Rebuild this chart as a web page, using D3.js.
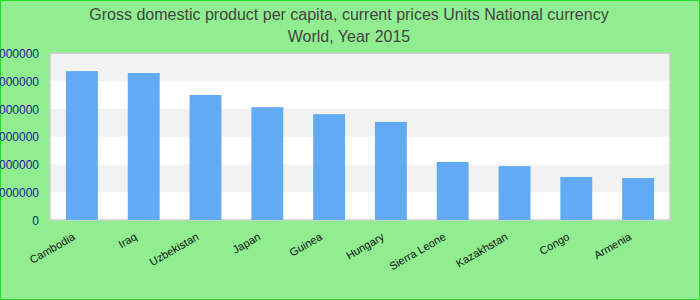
<!DOCTYPE html>
<html><head><meta charset="utf-8">
<script src="https://cdn.jsdelivr.net/npm/d3@7"></script>
<style>body{margin:0;padding:0;overflow:hidden}svg{display:block}</style>
</head><body>
<svg id="c" width="700" height="300"></svg>
<script>
const categories = ["Cambodia","Iraq","Uzbekistan","Japan","Guinea","Hungary","Sierra Leone","Kazakhstan","Congo","Armenia"];
const values = [5360000,5290000,4500000,4060000,3810000,3530000,2090000,1940000,1550000,1510000];
const yTicks = [0,1000000,2000000,3000000,4000000,5000000,6000000];
const titleLines = ["Gross domestic product per capita, current prices Units National currency","World, Year 2015"];

const svg = d3.select("#c");
const W = 700, H = 300;
const m = {l:50, r:30, t:53.3, b:80};
svg.append("rect").attr("x",0.5).attr("y",0.5).attr("width",W-1).attr("height",H-1)
  .attr("fill","#90ee90").attr("stroke","#22e022").attr("stroke-width",1);

const x = d3.scaleBand().domain(categories).range([m.l, W-m.r]).paddingInner(0.484).paddingOuter(0.258);
const y = d3.scaleLinear().domain([0,6000000]).range([220, m.t]);

svg.append("rect").attr("x",m.l).attr("y",m.t).attr("width",W-m.r-m.l).attr("height",220-m.t).attr("fill","#fff");
for (let i=0;i<yTicks.length-1;i++){
  if ((yTicks.length-2-i)%2===0){
    svg.append("rect").attr("x",m.l).attr("y",y(yTicks[i+1])).attr("width",W-m.r-m.l)
      .attr("height",y(yTicks[i])-y(yTicks[i+1])).attr("fill","#f2f2f2");
  }
}
svg.append("rect").attr("x",m.l).attr("y",m.t).attr("width",W-m.r-m.l).attr("height",220-m.t)
  .attr("fill","none").attr("stroke","#cfcfcf").attr("stroke-width",1.5);

svg.selectAll(".bar").data(categories).enter().append("rect")
  .attr("x",d=>x(d)).attr("width",x.bandwidth())
  .attr("y",(d,i)=>y(values[i])).attr("height",(d,i)=>220-y(values[i]))
  .attr("fill","#62aaf4");

const yAxis = d3.axisLeft(y).tickValues(yTicks).tickFormat(d=>String(d)).tickSize(0).tickPadding(0);
const ga = svg.append("g").attr("transform","translate(39,0)").call(yAxis);
ga.select(".domain").remove();
ga.selectAll("text").attr("fill","#1a1a9a").style("font-family","Liberation Sans, Arial, sans-serif").style("font-size","12px").attr("dy","0.35em");

const xAxis = d3.axisBottom(x).tickSize(0).tickPadding(0);
const gx = svg.append("g").call(xAxis);
gx.select(".domain").remove();
gx.selectAll(".tick").attr("transform",d=>`translate(${x(d)+x.bandwidth()/2-6},239)`);
gx.selectAll("text").attr("y",0).attr("dy",0).attr("text-anchor","end").attr("transform","rotate(-30)")
  .attr("fill","#111").style("font-family","Liberation Sans, Arial, sans-serif").style("font-size","11px");

svg.selectAll(".title").data(titleLines).enter().append("text")
  .attr("x",349).attr("y",(d,i)=>20+i*22).attr("text-anchor","middle")
  .attr("fill","#444").style("font-family","Liberation Sans, Arial, sans-serif").style("font-size","16px")
  .text(d=>d);
</script>
</body></html>
